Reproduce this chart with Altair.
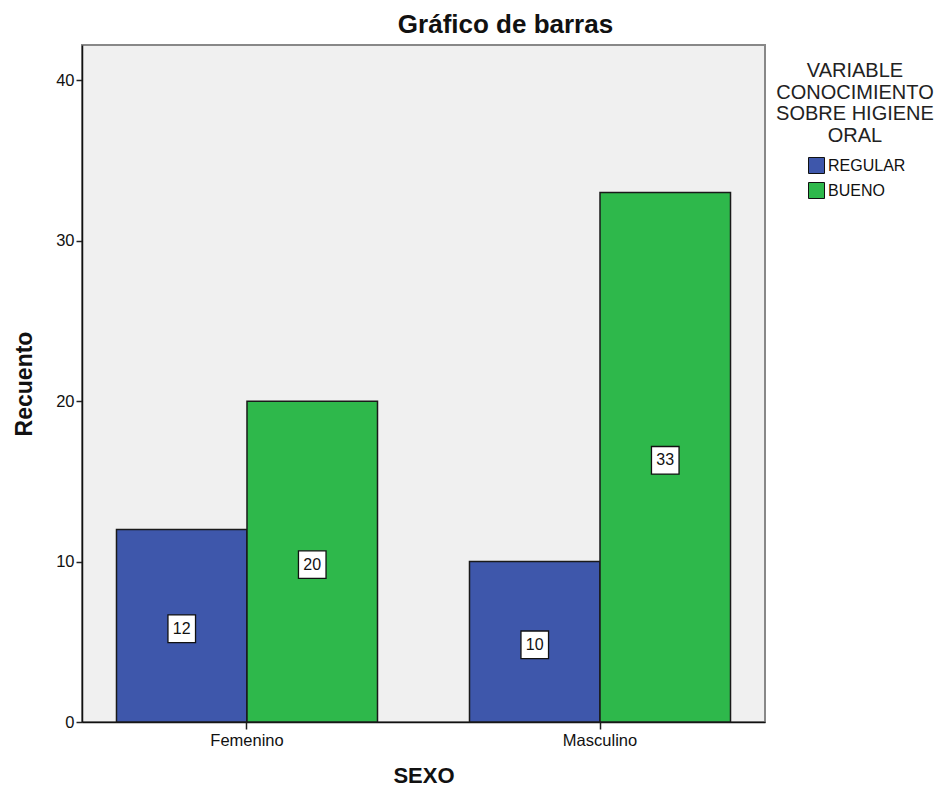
import altair as alt
import pandas as pd

sexo = ["Femenino", "Femenino", "Masculino", "Masculino"]
nivel = ["REGULAR", "BUENO", "REGULAR", "BUENO"]
recuento = [12, 20, 10, 33]

categorias = ["REGULAR", "BUENO"]
colores = ["#3E57AB", "#2EB84B"]
titulo_leyenda = ["VARIABLE", "CONOCIMIENTO", "SOBRE HIGIENE", "ORAL"]
y_ticks = [0, 10, 20, 30, 40]

df = pd.DataFrame({"SEXO": sexo, "nivel": nivel, "Recuento": recuento})

FONT = "Liberation Sans"
W, H = 683, 677

x_enc = alt.X(
    "SEXO:N",
    title="SEXO",
    scale=alt.Scale(paddingInner=0.2606, paddingOuter=0.0977),
    axis=alt.Axis(
        labelAngle=0, labelFontSize=16.5, labelFont=FONT, labelColor="#111",
        labelPadding=3, tickSize=7, tickColor="#222", tickWidth=1.5,
        domainColor="#111", domainWidth=1.5,
        titleFontSize=22, titleFont=FONT, titleFontWeight="bold", titleColor="#111",
        titleY=53, titleBaseline="middle",
    ),
)
xo_enc = alt.XOffset("nivel:N", sort=categorias,
                     scale=alt.Scale(paddingInner=0, paddingOuter=0))

bars = alt.Chart(df).mark_bar(stroke="#1a1a1a", strokeWidth=1.5).encode(
    x=x_enc,
    xOffset=xo_enc,
    y=alt.Y(
        "Recuento:Q",
        title="Recuento",
        scale=alt.Scale(domain=[0, 42.2], nice=False),
        axis=alt.Axis(
            values=y_ticks, grid=False, labelFontSize=16.5, labelFont=FONT,
            labelColor="#111", labelPadding=2, tickSize=6, tickColor="#222",
            tickWidth=1.5, domainColor="#111", domainWidth=1.5,
            titleFontSize=23, titleFont=FONT, titleFontWeight="bold",
            titleColor="#111", titleX=-58, titleY=H / 2, titleBaseline="middle",
            titleAngle=-90,
        ),
    ),
    color=alt.Color(
        "nivel:N",
        sort=categorias,
        scale=alt.Scale(domain=categorias, range=colores),
        legend=alt.Legend(
            title=None, orient="none", legendX=726, legendY=112,
            symbolType="square", symbolSize=256, symbolStrokeColor="#111",
            symbolStrokeWidth=1, symbolOpacity=1, labelFontSize=16, labelFont=FONT,
            labelColor="#111", labelOffset=3, rowPadding=4,
        ),
    ),
)

labels_base = alt.Chart(df).transform_calculate(mid="datum.Recuento / 2").encode(
    x=alt.X("SEXO:N"),
    xOffset=xo_enc,
    y=alt.Y("mid:Q"),
)
boxes = labels_base.mark_square(size=760, fill="white", stroke="#111",
                                strokeWidth=1.3, opacity=1, yOffset=3)
texts = labels_base.mark_text(fontSize=16, font=FONT, color="#111",
                              baseline="middle", yOffset=3).encode(
    text=alt.Text("Recuento:Q")
)

leg_title = alt.Chart(pd.DataFrame({"t": [0]})).mark_text(
    text=titulo_leyenda, align="center", baseline="alphabetic",
    fontSize=20, font=FONT, color="#222", lineHeight=21.7,
).encode(x=alt.value(773), y=alt.value(32))

chart = alt.layer(bars, boxes, texts, leg_title).properties(
    width=W, height=H,
    title=alt.TitleParams(
        "Gráfico de barras", font=FONT, fontSize=26, fontWeight="bold",
        color="#111", anchor="middle", frame="group", dx=82, offset=7,
    ),
    autosize=alt.AutoSizeParams(type="none"),
    padding={"left": 74, "top": 37, "right": 173, "bottom": 67},
    background="white",
).configure_view(
    fill="#F0F0F0", stroke="#888888", strokeWidth=2
)

chart.save("out.html", embed_options={"renderer": "svg", "actions": False})
